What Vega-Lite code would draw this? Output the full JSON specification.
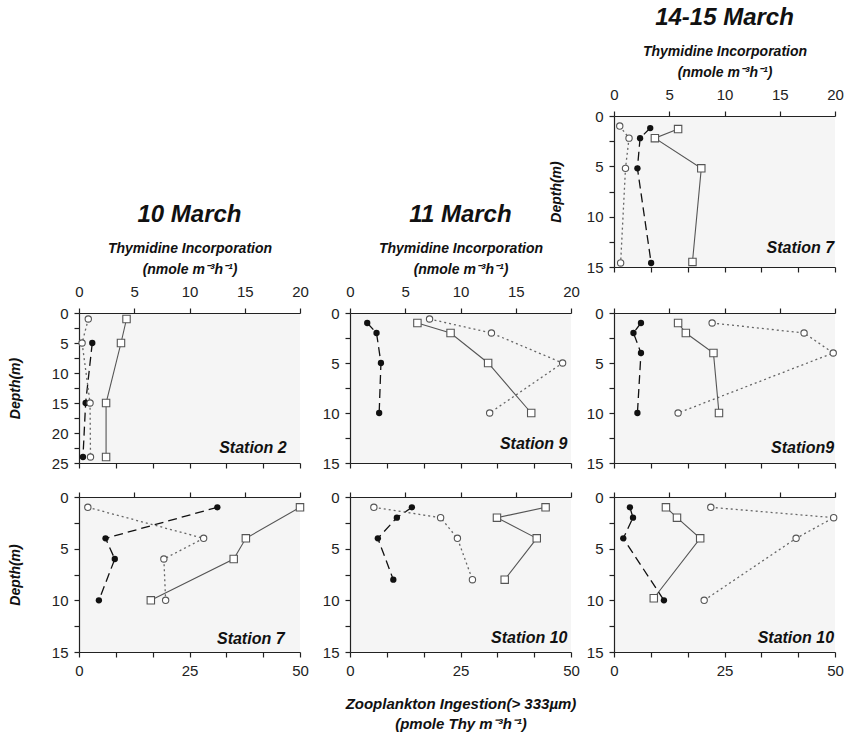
{
  "$schema": "https://vega.github.io/schema/vega-lite/v6.json",
  "padding": {"left": 8, "top": 6, "right": 0, "bottom": 4},
  "background": "white",
  "datasets": {
    "obs": [
      {"p":"A","s":"sq","d":1.3,"v":5.8},{"p":"A","s":"sq","d":2.2,"v":3.7},{"p":"A","s":"sq","d":5.2,"v":7.9},{"p":"A","s":"sq","d":14.5,"v":7.1},
      {"p":"A","s":"fc","d":1.2,"v":8.2},{"p":"A","s":"fc","d":2.2,"v":5.9},{"p":"A","s":"fc","d":5.2,"v":5.3},{"p":"A","s":"fc","d":14.6,"v":8.4},
      {"p":"A","s":"oc","d":1.0,"v":1.3},{"p":"A","s":"oc","d":2.2,"v":3.4},{"p":"A","s":"oc","d":5.2,"v":2.6},{"p":"A","s":"oc","d":14.6,"v":1.5},
      {"p":"A","s":"lab","t":"Station 7"},
      {"p":"B1","s":"sq","d":1,"v":4.3},{"p":"B1","s":"sq","d":5,"v":3.8},{"p":"B1","s":"sq","d":15,"v":2.45},{"p":"B1","s":"sq","d":24,"v":2.45},
      {"p":"B1","s":"fc","d":5,"v":3.0},{"p":"B1","s":"fc","d":15,"v":1.5},{"p":"B1","s":"fc","d":24,"v":0.9},
      {"p":"B1","s":"oc","d":1,"v":2.1},{"p":"B1","s":"oc","d":5,"v":0.7},{"p":"B1","s":"oc","d":15,"v":2.5},{"p":"B1","s":"oc","d":24,"v":2.6},
      {"p":"B1","s":"lab","t":"Station 2"},
      {"p":"B2","s":"sq","d":1,"v":6.1},{"p":"B2","s":"sq","d":2,"v":9.1},{"p":"B2","s":"sq","d":5,"v":12.5},{"p":"B2","s":"sq","d":10,"v":16.4},
      {"p":"B2","s":"fc","d":1,"v":3.9},{"p":"B2","s":"fc","d":2,"v":6.0},{"p":"B2","s":"fc","d":5,"v":7.0},{"p":"B2","s":"fc","d":10,"v":6.6},
      {"p":"B2","s":"oc","d":0.6,"v":18.0},{"p":"B2","s":"oc","d":2,"v":32.0},{"p":"B2","s":"oc","d":5,"v":48.1},{"p":"B2","s":"oc","d":10,"v":31.6},
      {"p":"B2","s":"lab","t":"Station 9"},
      {"p":"B3","s":"sq","d":1,"v":5.8},{"p":"B3","s":"sq","d":2,"v":6.5},{"p":"B3","s":"sq","d":4,"v":9.0},{"p":"B3","s":"sq","d":10,"v":9.5},
      {"p":"B3","s":"fc","d":1,"v":6.1},{"p":"B3","s":"fc","d":2,"v":4.4},{"p":"B3","s":"fc","d":4,"v":6.1},{"p":"B3","s":"fc","d":10,"v":5.3},
      {"p":"B3","s":"oc","d":1,"v":22.2},{"p":"B3","s":"oc","d":2,"v":43.0},{"p":"B3","s":"oc","d":4,"v":49.6},{"p":"B3","s":"oc","d":10,"v":14.5},
      {"p":"B3","s":"lab","t":"Station9"},
      {"p":"C1","s":"sq","d":1,"v":20.0},{"p":"C1","s":"sq","d":4,"v":15.1},{"p":"C1","s":"sq","d":6,"v":14.0},{"p":"C1","s":"sq","d":10,"v":6.5},
      {"p":"C1","s":"fc","d":1,"v":31.3},{"p":"C1","s":"fc","d":4,"v":6.0},{"p":"C1","s":"fc","d":6,"v":8.1},{"p":"C1","s":"fc","d":10,"v":4.5},
      {"p":"C1","s":"oc","d":1,"v":2.0},{"p":"C1","s":"oc","d":4,"v":28.2},{"p":"C1","s":"oc","d":6,"v":19.2},{"p":"C1","s":"oc","d":10,"v":19.6},
      {"p":"C1","s":"lab","t":"Station 7"},
      {"p":"C2","s":"sq","d":1,"v":17.7},{"p":"C2","s":"sq","d":2,"v":13.3},{"p":"C2","s":"sq","d":4,"v":16.9},{"p":"C2","s":"sq","d":8,"v":14.0},
      {"p":"C2","s":"fc","d":1,"v":14.0},{"p":"C2","s":"fc","d":2,"v":10.6},{"p":"C2","s":"fc","d":4,"v":6.3},{"p":"C2","s":"fc","d":8,"v":9.8},
      {"p":"C2","s":"oc","d":1,"v":5.4},{"p":"C2","s":"oc","d":2,"v":20.5},{"p":"C2","s":"oc","d":4,"v":24.3},{"p":"C2","s":"oc","d":8,"v":27.7},
      {"p":"C2","s":"lab","t":"Station 10"},
      {"p":"C3","s":"sq","d":1,"v":4.7},{"p":"C3","s":"sq","d":2,"v":5.7},{"p":"C3","s":"sq","d":4,"v":7.8},{"p":"C3","s":"sq","d":9.8,"v":3.6},
      {"p":"C3","s":"fc","d":1,"v":3.6},{"p":"C3","s":"fc","d":2,"v":4.3},{"p":"C3","s":"fc","d":4,"v":2.1},{"p":"C3","s":"fc","d":10,"v":11.3},
      {"p":"C3","s":"oc","d":1,"v":21.9},{"p":"C3","s":"oc","d":2,"v":49.7},{"p":"C3","s":"oc","d":4,"v":41.2},{"p":"C3","s":"oc","d":10,"v":20.4},
      {"p":"C3","s":"lab","t":"Station 10"}
    ]
  },
  "columns": 3,
  "bounds": "flush",
  "spacing": {"row": 34, "column": 43},
  "concat": [
    {"width": 228, "height": 163, "view": {"fill": null, "stroke": null}, "data": {"values": [{}]}, "mark": {"type": "point", "opacity": 0}, "encoding": {}},
    {"width": 221, "height": 163, "view": {"fill": null, "stroke": null}, "data": {"values": [{}]}, "mark": {"type": "point", "opacity": 0}, "encoding": {}},
    {
      "width": 221, "height": 151, "data": {"name": "obs"},
      "title": {"text": "14-15 March", "anchor": "middle", "frame": "group", "offset": 14},
      "transform": [{"filter": "datum.p === 'A'"}],
      "resolve": {"scale": {"x": "independent"}},
      "layer": [
        {"transform": [{"filter": "datum.s === 'sq'"}], "mark": {"type": "line", "color": "#555", "strokeWidth": 1.1},
         "encoding": {"x": {"field": "v", "type": "quantitative", "scale": {"domain": [0, 20], "nice": false}, "axis": {"orient": "top", "values": [0, 5, 10, 15, 20], "labelExpr": "'' + datum.value", "labelPadding": 9, "title": ["Thymidine Incorporation", "(nmole m⁻³h⁻¹)"], "titlePadding": 8, "titleLineHeight": 21}},
           "y": {"field": "d", "type": "quantitative", "scale": {"domain": [0, 15], "reverse": true, "nice": false}, "axis": {"values": [0, 2.5, 5, 7.5, 10, 12.5, 15], "labelExpr": "datum.value % 5 === 0 ? '' + datum.value : ''", "title": "Depth(m)", "titlePadding": 23}},
           "order": {"field": "d"}}},
        {"transform": [{"filter": "datum.s === 'sq'"}], "mark": {"type": "point", "shape": "square", "size": 55, "filled": true, "fill": "white", "stroke": "#555", "strokeWidth": 1.1, "opacity": 1},
         "encoding": {"x": {"field": "v", "type": "quantitative", "scale": {"domain": [0, 20], "nice": false}, "axis": null},
           "y": {"field": "d", "type": "quantitative", "scale": {"domain": [0, 15], "reverse": true, "nice": false}, "axis": {"values": [0, 2.5, 5, 7.5, 10, 12.5, 15], "labelExpr": "datum.value % 5 === 0 ? '' + datum.value : ''", "title": "Depth(m)", "titlePadding": 23}}}},
        {"transform": [{"filter": "datum.s === 'fc'"}], "mark": {"type": "line", "color": "#111", "strokeWidth": 1.3, "strokeDash": [9, 5]},
         "encoding": {"x": {"field": "v", "type": "quantitative", "scale": {"domain": [0, 50], "nice": false}, "axis": {"orient": "bottom", "values": [0, 8.3333, 16.6667, 25, 33.3333, 41.6667, 50], "labels": false, "title": null}},
           "y": {"field": "d", "type": "quantitative", "scale": {"domain": [0, 15], "reverse": true, "nice": false}, "axis": {"values": [0, 2.5, 5, 7.5, 10, 12.5, 15], "labelExpr": "datum.value % 5 === 0 ? '' + datum.value : ''", "title": "Depth(m)", "titlePadding": 23}},
           "order": {"field": "d"}}},
        {"transform": [{"filter": "datum.s === 'fc'"}], "mark": {"type": "circle", "size": 40, "color": "#111", "opacity": 1},
         "encoding": {"x": {"field": "v", "type": "quantitative", "scale": {"domain": [0, 50], "nice": false}, "axis": null},
           "y": {"field": "d", "type": "quantitative", "scale": {"domain": [0, 15], "reverse": true, "nice": false}, "axis": {"values": [0, 2.5, 5, 7.5, 10, 12.5, 15], "labelExpr": "datum.value % 5 === 0 ? '' + datum.value : ''", "title": "Depth(m)", "titlePadding": 23}}}},
        {"transform": [{"filter": "datum.s === 'oc'"}], "mark": {"type": "line", "color": "#666", "strokeWidth": 1.3, "strokeDash": [2, 3]},
         "encoding": {"x": {"field": "v", "type": "quantitative", "scale": {"domain": [0, 50], "nice": false}, "axis": null},
           "y": {"field": "d", "type": "quantitative", "scale": {"domain": [0, 15], "reverse": true, "nice": false}, "axis": {"values": [0, 2.5, 5, 7.5, 10, 12.5, 15], "labelExpr": "datum.value % 5 === 0 ? '' + datum.value : ''", "title": "Depth(m)", "titlePadding": 23}},
           "order": {"field": "d"}}},
        {"transform": [{"filter": "datum.s === 'oc'"}], "mark": {"type": "point", "shape": "circle", "size": 40, "filled": true, "fill": "white", "stroke": "#555", "strokeWidth": 1.1, "opacity": 1},
         "encoding": {"x": {"field": "v", "type": "quantitative", "scale": {"domain": [0, 50], "nice": false}, "axis": null},
           "y": {"field": "d", "type": "quantitative", "scale": {"domain": [0, 15], "reverse": true, "nice": false}, "axis": {"values": [0, 2.5, 5, 7.5, 10, 12.5, 15], "labelExpr": "datum.value % 5 === 0 ? '' + datum.value : ''", "title": "Depth(m)", "titlePadding": 23}}}},
        {"transform": [{"filter": "datum.s === 'lab'"}], "mark": {"type": "text", "align": "right", "baseline": "middle", "font": "Liberation Sans", "fontSize": 16, "fontWeight": "bold", "fontStyle": "italic", "color": "#111"},
         "encoding": {"x": {"datum": 49.8, "type": "quantitative", "scale": {"domain": [0, 50], "nice": false}, "axis": null},
           "y": {"datum": 13.1, "type": "quantitative", "scale": {"domain": [0, 15], "reverse": true, "nice": false}, "axis": {"values": [0, 2.5, 5, 7.5, 10, 12.5, 15], "labelExpr": "datum.value % 5 === 0 ? '' + datum.value : ''", "title": "Depth(m)", "titlePadding": 23}},
           "text": {"field": "t"}}}
      ]
    },
    {
      "width": 221, "height": 150, "data": {"name": "obs"},
      "title": {"text": "10 March", "anchor": "middle", "frame": "group", "offset": 14},
      "transform": [{"filter": "datum.p === 'B1'"}],
      "resolve": {"scale": {"x": "independent"}},
      "layer": [
        {"transform": [{"filter": "datum.s === 'sq'"}], "mark": {"type": "line", "color": "#555", "strokeWidth": 1.1},
         "encoding": {"x": {"field": "v", "type": "quantitative", "scale": {"domain": [0, 20], "nice": false}, "axis": {"orient": "top", "values": [0, 5, 10, 15, 20], "labelExpr": "'' + datum.value", "labelPadding": 9, "title": ["Thymidine Incorporation", "(nmole m⁻³h⁻¹)"], "titlePadding": 8, "titleLineHeight": 21}},
           "y": {"field": "d", "type": "quantitative", "scale": {"domain": [0, 25], "reverse": true, "nice": false}, "axis": {"values": [0, 2.5, 5, 7.5, 10, 12.5, 15, 17.5, 20, 22.5, 25], "labelExpr": "datum.value % 5 === 0 ? '' + datum.value : ''", "title": "Depth(m)", "titlePadding": 29}},
           "order": {"field": "d"}}},
        {"transform": [{"filter": "datum.s === 'sq'"}], "mark": {"type": "point", "shape": "square", "size": 55, "filled": true, "fill": "white", "stroke": "#555", "strokeWidth": 1.1, "opacity": 1},
         "encoding": {"x": {"field": "v", "type": "quantitative", "scale": {"domain": [0, 20], "nice": false}, "axis": null},
           "y": {"field": "d", "type": "quantitative", "scale": {"domain": [0, 25], "reverse": true, "nice": false}, "axis": {"values": [0, 2.5, 5, 7.5, 10, 12.5, 15, 17.5, 20, 22.5, 25], "labelExpr": "datum.value % 5 === 0 ? '' + datum.value : ''", "title": "Depth(m)", "titlePadding": 29}}}},
        {"transform": [{"filter": "datum.s === 'fc'"}], "mark": {"type": "line", "color": "#111", "strokeWidth": 1.3, "strokeDash": [9, 5]},
         "encoding": {"x": {"field": "v", "type": "quantitative", "scale": {"domain": [0, 50], "nice": false}, "axis": {"orient": "bottom", "values": [0, 8.3333, 16.6667, 25, 33.3333, 41.6667, 50], "labels": false, "title": null}},
           "y": {"field": "d", "type": "quantitative", "scale": {"domain": [0, 25], "reverse": true, "nice": false}, "axis": {"values": [0, 2.5, 5, 7.5, 10, 12.5, 15, 17.5, 20, 22.5, 25], "labelExpr": "datum.value % 5 === 0 ? '' + datum.value : ''", "title": "Depth(m)", "titlePadding": 29}},
           "order": {"field": "d"}}},
        {"transform": [{"filter": "datum.s === 'fc'"}], "mark": {"type": "circle", "size": 40, "color": "#111", "opacity": 1},
         "encoding": {"x": {"field": "v", "type": "quantitative", "scale": {"domain": [0, 50], "nice": false}, "axis": null},
           "y": {"field": "d", "type": "quantitative", "scale": {"domain": [0, 25], "reverse": true, "nice": false}, "axis": {"values": [0, 2.5, 5, 7.5, 10, 12.5, 15, 17.5, 20, 22.5, 25], "labelExpr": "datum.value % 5 === 0 ? '' + datum.value : ''", "title": "Depth(m)", "titlePadding": 29}}}},
        {"transform": [{"filter": "datum.s === 'oc'"}], "mark": {"type": "line", "color": "#666", "strokeWidth": 1.3, "strokeDash": [2, 3]},
         "encoding": {"x": {"field": "v", "type": "quantitative", "scale": {"domain": [0, 50], "nice": false}, "axis": null},
           "y": {"field": "d", "type": "quantitative", "scale": {"domain": [0, 25], "reverse": true, "nice": false}, "axis": {"values": [0, 2.5, 5, 7.5, 10, 12.5, 15, 17.5, 20, 22.5, 25], "labelExpr": "datum.value % 5 === 0 ? '' + datum.value : ''", "title": "Depth(m)", "titlePadding": 29}},
           "order": {"field": "d"}}},
        {"transform": [{"filter": "datum.s === 'oc'"}], "mark": {"type": "point", "shape": "circle", "size": 40, "filled": true, "fill": "white", "stroke": "#555", "strokeWidth": 1.1, "opacity": 1},
         "encoding": {"x": {"field": "v", "type": "quantitative", "scale": {"domain": [0, 50], "nice": false}, "axis": null},
           "y": {"field": "d", "type": "quantitative", "scale": {"domain": [0, 25], "reverse": true, "nice": false}, "axis": {"values": [0, 2.5, 5, 7.5, 10, 12.5, 15, 17.5, 20, 22.5, 25], "labelExpr": "datum.value % 5 === 0 ? '' + datum.value : ''", "title": "Depth(m)", "titlePadding": 29}}}},
        {"transform": [{"filter": "datum.s === 'lab'"}], "mark": {"type": "text", "align": "right", "baseline": "middle", "font": "Liberation Sans", "fontSize": 16, "fontWeight": "bold", "fontStyle": "italic", "color": "#111"},
         "encoding": {"x": {"datum": 47, "type": "quantitative", "scale": {"domain": [0, 50], "nice": false}, "axis": null},
           "y": {"datum": 22.5, "type": "quantitative", "scale": {"domain": [0, 25], "reverse": true, "nice": false}, "axis": {"values": [0, 2.5, 5, 7.5, 10, 12.5, 15, 17.5, 20, 22.5, 25], "labelExpr": "datum.value % 5 === 0 ? '' + datum.value : ''", "title": "Depth(m)", "titlePadding": 29}},
           "text": {"field": "t"}}}
      ]
    },
    {
      "width": 221, "height": 150, "data": {"name": "obs"},
      "title": {"text": "11 March", "anchor": "middle", "frame": "group", "offset": 14},
      "transform": [{"filter": "datum.p === 'B2'"}],
      "resolve": {"scale": {"x": "independent"}},
      "layer": [
        {"transform": [{"filter": "datum.s === 'sq'"}], "mark": {"type": "line", "color": "#555", "strokeWidth": 1.1},
         "encoding": {"x": {"field": "v", "type": "quantitative", "scale": {"domain": [0, 20], "nice": false}, "axis": {"orient": "top", "values": [0, 5, 10, 15, 20], "labelExpr": "'' + datum.value", "labelPadding": 9, "title": ["Thymidine Incorporation", "(nmole m⁻³h⁻¹)"], "titlePadding": 8, "titleLineHeight": 21}},
           "y": {"field": "d", "type": "quantitative", "scale": {"domain": [0, 15], "reverse": true, "nice": false}, "axis": {"values": [0, 2.5, 5, 7.5, 10, 12.5, 15], "labelExpr": "datum.value % 5 === 0 ? '' + datum.value : ''", "title": null}},
           "order": {"field": "d"}}},
        {"transform": [{"filter": "datum.s === 'sq'"}], "mark": {"type": "point", "shape": "square", "size": 55, "filled": true, "fill": "white", "stroke": "#555", "strokeWidth": 1.1, "opacity": 1},
         "encoding": {"x": {"field": "v", "type": "quantitative", "scale": {"domain": [0, 20], "nice": false}, "axis": null},
           "y": {"field": "d", "type": "quantitative", "scale": {"domain": [0, 15], "reverse": true, "nice": false}, "axis": {"values": [0, 2.5, 5, 7.5, 10, 12.5, 15], "labelExpr": "datum.value % 5 === 0 ? '' + datum.value : ''", "title": null}}}},
        {"transform": [{"filter": "datum.s === 'fc'"}], "mark": {"type": "line", "color": "#111", "strokeWidth": 1.3, "strokeDash": [9, 5]},
         "encoding": {"x": {"field": "v", "type": "quantitative", "scale": {"domain": [0, 50], "nice": false}, "axis": {"orient": "bottom", "values": [0, 8.3333, 16.6667, 25, 33.3333, 41.6667, 50], "labels": false, "title": null}},
           "y": {"field": "d", "type": "quantitative", "scale": {"domain": [0, 15], "reverse": true, "nice": false}, "axis": {"values": [0, 2.5, 5, 7.5, 10, 12.5, 15], "labelExpr": "datum.value % 5 === 0 ? '' + datum.value : ''", "title": null}},
           "order": {"field": "d"}}},
        {"transform": [{"filter": "datum.s === 'fc'"}], "mark": {"type": "circle", "size": 40, "color": "#111", "opacity": 1},
         "encoding": {"x": {"field": "v", "type": "quantitative", "scale": {"domain": [0, 50], "nice": false}, "axis": null},
           "y": {"field": "d", "type": "quantitative", "scale": {"domain": [0, 15], "reverse": true, "nice": false}, "axis": {"values": [0, 2.5, 5, 7.5, 10, 12.5, 15], "labelExpr": "datum.value % 5 === 0 ? '' + datum.value : ''", "title": null}}}},
        {"transform": [{"filter": "datum.s === 'oc'"}], "mark": {"type": "line", "color": "#666", "strokeWidth": 1.3, "strokeDash": [2, 3]},
         "encoding": {"x": {"field": "v", "type": "quantitative", "scale": {"domain": [0, 50], "nice": false}, "axis": null},
           "y": {"field": "d", "type": "quantitative", "scale": {"domain": [0, 15], "reverse": true, "nice": false}, "axis": {"values": [0, 2.5, 5, 7.5, 10, 12.5, 15], "labelExpr": "datum.value % 5 === 0 ? '' + datum.value : ''", "title": null}},
           "order": {"field": "d"}}},
        {"transform": [{"filter": "datum.s === 'oc'"}], "mark": {"type": "point", "shape": "circle", "size": 40, "filled": true, "fill": "white", "stroke": "#555", "strokeWidth": 1.1, "opacity": 1},
         "encoding": {"x": {"field": "v", "type": "quantitative", "scale": {"domain": [0, 50], "nice": false}, "axis": null},
           "y": {"field": "d", "type": "quantitative", "scale": {"domain": [0, 15], "reverse": true, "nice": false}, "axis": {"values": [0, 2.5, 5, 7.5, 10, 12.5, 15], "labelExpr": "datum.value % 5 === 0 ? '' + datum.value : ''", "title": null}}}},
        {"transform": [{"filter": "datum.s === 'lab'"}], "mark": {"type": "text", "align": "right", "baseline": "middle", "font": "Liberation Sans", "fontSize": 16, "fontWeight": "bold", "fontStyle": "italic", "color": "#111"},
         "encoding": {"x": {"datum": 49.2, "type": "quantitative", "scale": {"domain": [0, 50], "nice": false}, "axis": null},
           "y": {"datum": 13.1, "type": "quantitative", "scale": {"domain": [0, 15], "reverse": true, "nice": false}, "axis": {"values": [0, 2.5, 5, 7.5, 10, 12.5, 15], "labelExpr": "datum.value % 5 === 0 ? '' + datum.value : ''", "title": null}},
           "text": {"field": "t"}}}
      ]
    },
    {
      "width": 221, "height": 150, "data": {"name": "obs"},
      "transform": [{"filter": "datum.p === 'B3'"}],
      "resolve": {"scale": {"x": "independent"}},
      "layer": [
        {"transform": [{"filter": "datum.s === 'sq'"}], "mark": {"type": "line", "color": "#555", "strokeWidth": 1.1},
         "encoding": {"x": {"field": "v", "type": "quantitative", "scale": {"domain": [0, 20], "nice": false}, "axis": {"orient": "top", "values": [0, 5, 10, 15, 20], "labels": false, "title": null}},
           "y": {"field": "d", "type": "quantitative", "scale": {"domain": [0, 15], "reverse": true, "nice": false}, "axis": {"values": [0, 2.5, 5, 7.5, 10, 12.5, 15], "labelExpr": "datum.value % 5 === 0 ? '' + datum.value : ''", "title": null}},
           "order": {"field": "d"}}},
        {"transform": [{"filter": "datum.s === 'sq'"}], "mark": {"type": "point", "shape": "square", "size": 55, "filled": true, "fill": "white", "stroke": "#555", "strokeWidth": 1.1, "opacity": 1},
         "encoding": {"x": {"field": "v", "type": "quantitative", "scale": {"domain": [0, 20], "nice": false}, "axis": null},
           "y": {"field": "d", "type": "quantitative", "scale": {"domain": [0, 15], "reverse": true, "nice": false}, "axis": {"values": [0, 2.5, 5, 7.5, 10, 12.5, 15], "labelExpr": "datum.value % 5 === 0 ? '' + datum.value : ''", "title": null}}}},
        {"transform": [{"filter": "datum.s === 'fc'"}], "mark": {"type": "line", "color": "#111", "strokeWidth": 1.3, "strokeDash": [9, 5]},
         "encoding": {"x": {"field": "v", "type": "quantitative", "scale": {"domain": [0, 50], "nice": false}, "axis": {"orient": "bottom", "values": [0, 8.3333, 16.6667, 25, 33.3333, 41.6667, 50], "labels": false, "title": null}},
           "y": {"field": "d", "type": "quantitative", "scale": {"domain": [0, 15], "reverse": true, "nice": false}, "axis": {"values": [0, 2.5, 5, 7.5, 10, 12.5, 15], "labelExpr": "datum.value % 5 === 0 ? '' + datum.value : ''", "title": null}},
           "order": {"field": "d"}}},
        {"transform": [{"filter": "datum.s === 'fc'"}], "mark": {"type": "circle", "size": 40, "color": "#111", "opacity": 1},
         "encoding": {"x": {"field": "v", "type": "quantitative", "scale": {"domain": [0, 50], "nice": false}, "axis": null},
           "y": {"field": "d", "type": "quantitative", "scale": {"domain": [0, 15], "reverse": true, "nice": false}, "axis": {"values": [0, 2.5, 5, 7.5, 10, 12.5, 15], "labelExpr": "datum.value % 5 === 0 ? '' + datum.value : ''", "title": null}}}},
        {"transform": [{"filter": "datum.s === 'oc'"}], "mark": {"type": "line", "color": "#666", "strokeWidth": 1.3, "strokeDash": [2, 3]},
         "encoding": {"x": {"field": "v", "type": "quantitative", "scale": {"domain": [0, 50], "nice": false}, "axis": null},
           "y": {"field": "d", "type": "quantitative", "scale": {"domain": [0, 15], "reverse": true, "nice": false}, "axis": {"values": [0, 2.5, 5, 7.5, 10, 12.5, 15], "labelExpr": "datum.value % 5 === 0 ? '' + datum.value : ''", "title": null}},
           "order": {"field": "d"}}},
        {"transform": [{"filter": "datum.s === 'oc'"}], "mark": {"type": "point", "shape": "circle", "size": 40, "filled": true, "fill": "white", "stroke": "#555", "strokeWidth": 1.1, "opacity": 1},
         "encoding": {"x": {"field": "v", "type": "quantitative", "scale": {"domain": [0, 50], "nice": false}, "axis": null},
           "y": {"field": "d", "type": "quantitative", "scale": {"domain": [0, 15], "reverse": true, "nice": false}, "axis": {"values": [0, 2.5, 5, 7.5, 10, 12.5, 15], "labelExpr": "datum.value % 5 === 0 ? '' + datum.value : ''", "title": null}}}},
        {"transform": [{"filter": "datum.s === 'lab'"}], "mark": {"type": "text", "align": "right", "baseline": "middle", "font": "Liberation Sans", "fontSize": 16, "fontWeight": "bold", "fontStyle": "italic", "color": "#111"},
         "encoding": {"x": {"datum": 49.8, "type": "quantitative", "scale": {"domain": [0, 50], "nice": false}, "axis": null},
           "y": {"datum": 13.5, "type": "quantitative", "scale": {"domain": [0, 15], "reverse": true, "nice": false}, "axis": {"values": [0, 2.5, 5, 7.5, 10, 12.5, 15], "labelExpr": "datum.value % 5 === 0 ? '' + datum.value : ''", "title": null}},
           "text": {"field": "t"}}}
      ]
    },
    {
      "width": 221, "height": 155, "data": {"name": "obs"},
      "transform": [{"filter": "datum.p === 'C1'"}],
      "resolve": {"scale": {"x": "independent"}},
      "layer": [
        {"transform": [{"filter": "datum.s === 'sq'"}], "mark": {"type": "line", "color": "#555", "strokeWidth": 1.1},
         "encoding": {"x": {"field": "v", "type": "quantitative", "scale": {"domain": [0, 20], "nice": false}, "axis": {"orient": "top", "values": [0, 5, 10, 15, 20], "labels": false, "title": null}},
           "y": {"field": "d", "type": "quantitative", "scale": {"domain": [0, 15], "reverse": true, "nice": false}, "axis": {"values": [0, 2.5, 5, 7.5, 10, 12.5, 15], "labelExpr": "datum.value % 5 === 0 ? '' + datum.value : ''", "title": "Depth(m)", "titlePadding": 29}},
           "order": {"field": "d"}}},
        {"transform": [{"filter": "datum.s === 'sq'"}], "mark": {"type": "point", "shape": "square", "size": 55, "filled": true, "fill": "white", "stroke": "#555", "strokeWidth": 1.1, "opacity": 1},
         "encoding": {"x": {"field": "v", "type": "quantitative", "scale": {"domain": [0, 20], "nice": false}, "axis": null},
           "y": {"field": "d", "type": "quantitative", "scale": {"domain": [0, 15], "reverse": true, "nice": false}, "axis": {"values": [0, 2.5, 5, 7.5, 10, 12.5, 15], "labelExpr": "datum.value % 5 === 0 ? '' + datum.value : ''", "title": "Depth(m)", "titlePadding": 29}}}},
        {"transform": [{"filter": "datum.s === 'fc'"}], "mark": {"type": "line", "color": "#111", "strokeWidth": 1.3, "strokeDash": [9, 5]},
         "encoding": {"x": {"field": "v", "type": "quantitative", "scale": {"domain": [0, 50], "nice": false}, "axis": {"orient": "bottom", "values": [0, 8.3333, 16.6667, 25, 33.3333, 41.6667, 50], "labelExpr": "datum.value % 25 === 0 ? '' + datum.value : ''", "title": null}},
           "y": {"field": "d", "type": "quantitative", "scale": {"domain": [0, 15], "reverse": true, "nice": false}, "axis": {"values": [0, 2.5, 5, 7.5, 10, 12.5, 15], "labelExpr": "datum.value % 5 === 0 ? '' + datum.value : ''", "title": "Depth(m)", "titlePadding": 29}},
           "order": {"field": "d"}}},
        {"transform": [{"filter": "datum.s === 'fc'"}], "mark": {"type": "circle", "size": 40, "color": "#111", "opacity": 1},
         "encoding": {"x": {"field": "v", "type": "quantitative", "scale": {"domain": [0, 50], "nice": false}, "axis": null},
           "y": {"field": "d", "type": "quantitative", "scale": {"domain": [0, 15], "reverse": true, "nice": false}, "axis": {"values": [0, 2.5, 5, 7.5, 10, 12.5, 15], "labelExpr": "datum.value % 5 === 0 ? '' + datum.value : ''", "title": "Depth(m)", "titlePadding": 29}}}},
        {"transform": [{"filter": "datum.s === 'oc'"}], "mark": {"type": "line", "color": "#666", "strokeWidth": 1.3, "strokeDash": [2, 3]},
         "encoding": {"x": {"field": "v", "type": "quantitative", "scale": {"domain": [0, 50], "nice": false}, "axis": null},
           "y": {"field": "d", "type": "quantitative", "scale": {"domain": [0, 15], "reverse": true, "nice": false}, "axis": {"values": [0, 2.5, 5, 7.5, 10, 12.5, 15], "labelExpr": "datum.value % 5 === 0 ? '' + datum.value : ''", "title": "Depth(m)", "titlePadding": 29}},
           "order": {"field": "d"}}},
        {"transform": [{"filter": "datum.s === 'oc'"}], "mark": {"type": "point", "shape": "circle", "size": 40, "filled": true, "fill": "white", "stroke": "#555", "strokeWidth": 1.1, "opacity": 1},
         "encoding": {"x": {"field": "v", "type": "quantitative", "scale": {"domain": [0, 50], "nice": false}, "axis": null},
           "y": {"field": "d", "type": "quantitative", "scale": {"domain": [0, 15], "reverse": true, "nice": false}, "axis": {"values": [0, 2.5, 5, 7.5, 10, 12.5, 15], "labelExpr": "datum.value % 5 === 0 ? '' + datum.value : ''", "title": "Depth(m)", "titlePadding": 29}}}},
        {"transform": [{"filter": "datum.s === 'lab'"}], "mark": {"type": "text", "align": "right", "baseline": "middle", "font": "Liberation Sans", "fontSize": 16, "fontWeight": "bold", "fontStyle": "italic", "color": "#111"},
         "encoding": {"x": {"datum": 46.5, "type": "quantitative", "scale": {"domain": [0, 50], "nice": false}, "axis": null},
           "y": {"datum": 13.7, "type": "quantitative", "scale": {"domain": [0, 15], "reverse": true, "nice": false}, "axis": {"values": [0, 2.5, 5, 7.5, 10, 12.5, 15], "labelExpr": "datum.value % 5 === 0 ? '' + datum.value : ''", "title": "Depth(m)", "titlePadding": 29}},
           "text": {"field": "t"}}}
      ]
    },
    {
      "width": 221, "height": 155, "data": {"name": "obs"},
      "transform": [{"filter": "datum.p === 'C2'"}],
      "resolve": {"scale": {"x": "independent"}},
      "layer": [
        {"transform": [{"filter": "datum.s === 'sq'"}], "mark": {"type": "line", "color": "#555", "strokeWidth": 1.1},
         "encoding": {"x": {"field": "v", "type": "quantitative", "scale": {"domain": [0, 20], "nice": false}, "axis": {"orient": "top", "values": [0, 5, 10, 15, 20], "labels": false, "title": null}},
           "y": {"field": "d", "type": "quantitative", "scale": {"domain": [0, 15], "reverse": true, "nice": false}, "axis": {"values": [0, 2.5, 5, 7.5, 10, 12.5, 15], "labelExpr": "datum.value % 5 === 0 ? '' + datum.value : ''", "title": null}},
           "order": {"field": "d"}}},
        {"transform": [{"filter": "datum.s === 'sq'"}], "mark": {"type": "point", "shape": "square", "size": 55, "filled": true, "fill": "white", "stroke": "#555", "strokeWidth": 1.1, "opacity": 1},
         "encoding": {"x": {"field": "v", "type": "quantitative", "scale": {"domain": [0, 20], "nice": false}, "axis": null},
           "y": {"field": "d", "type": "quantitative", "scale": {"domain": [0, 15], "reverse": true, "nice": false}, "axis": {"values": [0, 2.5, 5, 7.5, 10, 12.5, 15], "labelExpr": "datum.value % 5 === 0 ? '' + datum.value : ''", "title": null}}}},
        {"transform": [{"filter": "datum.s === 'fc'"}], "mark": {"type": "line", "color": "#111", "strokeWidth": 1.3, "strokeDash": [9, 5]},
         "encoding": {"x": {"field": "v", "type": "quantitative", "scale": {"domain": [0, 50], "nice": false}, "axis": {"orient": "bottom", "values": [0, 8.3333, 16.6667, 25, 33.3333, 41.6667, 50], "labelExpr": "datum.value % 25 === 0 ? '' + datum.value : ''", "title": ["Zooplankton Ingestion(> 333µm)", "(pmole Thy m⁻³h⁻¹)"], "titlePadding": 18, "titleLineHeight": 20, "titleFontSize": 15}},
           "y": {"field": "d", "type": "quantitative", "scale": {"domain": [0, 15], "reverse": true, "nice": false}, "axis": {"values": [0, 2.5, 5, 7.5, 10, 12.5, 15], "labelExpr": "datum.value % 5 === 0 ? '' + datum.value : ''", "title": null}},
           "order": {"field": "d"}}},
        {"transform": [{"filter": "datum.s === 'fc'"}], "mark": {"type": "circle", "size": 40, "color": "#111", "opacity": 1},
         "encoding": {"x": {"field": "v", "type": "quantitative", "scale": {"domain": [0, 50], "nice": false}, "axis": null},
           "y": {"field": "d", "type": "quantitative", "scale": {"domain": [0, 15], "reverse": true, "nice": false}, "axis": {"values": [0, 2.5, 5, 7.5, 10, 12.5, 15], "labelExpr": "datum.value % 5 === 0 ? '' + datum.value : ''", "title": null}}}},
        {"transform": [{"filter": "datum.s === 'oc'"}], "mark": {"type": "line", "color": "#666", "strokeWidth": 1.3, "strokeDash": [2, 3]},
         "encoding": {"x": {"field": "v", "type": "quantitative", "scale": {"domain": [0, 50], "nice": false}, "axis": null},
           "y": {"field": "d", "type": "quantitative", "scale": {"domain": [0, 15], "reverse": true, "nice": false}, "axis": {"values": [0, 2.5, 5, 7.5, 10, 12.5, 15], "labelExpr": "datum.value % 5 === 0 ? '' + datum.value : ''", "title": null}},
           "order": {"field": "d"}}},
        {"transform": [{"filter": "datum.s === 'oc'"}], "mark": {"type": "point", "shape": "circle", "size": 40, "filled": true, "fill": "white", "stroke": "#555", "strokeWidth": 1.1, "opacity": 1},
         "encoding": {"x": {"field": "v", "type": "quantitative", "scale": {"domain": [0, 50], "nice": false}, "axis": null},
           "y": {"field": "d", "type": "quantitative", "scale": {"domain": [0, 15], "reverse": true, "nice": false}, "axis": {"values": [0, 2.5, 5, 7.5, 10, 12.5, 15], "labelExpr": "datum.value % 5 === 0 ? '' + datum.value : ''", "title": null}}}},
        {"transform": [{"filter": "datum.s === 'lab'"}], "mark": {"type": "text", "align": "right", "baseline": "middle", "font": "Liberation Sans", "fontSize": 16, "fontWeight": "bold", "fontStyle": "italic", "color": "#111"},
         "encoding": {"x": {"datum": 49.2, "type": "quantitative", "scale": {"domain": [0, 50], "nice": false}, "axis": null},
           "y": {"datum": 13.6, "type": "quantitative", "scale": {"domain": [0, 15], "reverse": true, "nice": false}, "axis": {"values": [0, 2.5, 5, 7.5, 10, 12.5, 15], "labelExpr": "datum.value % 5 === 0 ? '' + datum.value : ''", "title": null}},
           "text": {"field": "t"}}}
      ]
    },
    {
      "width": 221, "height": 155, "data": {"name": "obs"},
      "transform": [{"filter": "datum.p === 'C3'"}],
      "resolve": {"scale": {"x": "independent"}},
      "layer": [
        {"transform": [{"filter": "datum.s === 'sq'"}], "mark": {"type": "line", "color": "#555", "strokeWidth": 1.1},
         "encoding": {"x": {"field": "v", "type": "quantitative", "scale": {"domain": [0, 20], "nice": false}, "axis": {"orient": "top", "values": [0, 5, 10, 15, 20], "labels": false, "title": null}},
           "y": {"field": "d", "type": "quantitative", "scale": {"domain": [0, 15], "reverse": true, "nice": false}, "axis": {"values": [0, 2.5, 5, 7.5, 10, 12.5, 15], "labelExpr": "datum.value % 5 === 0 ? '' + datum.value : ''", "title": null}},
           "order": {"field": "d"}}},
        {"transform": [{"filter": "datum.s === 'sq'"}], "mark": {"type": "point", "shape": "square", "size": 55, "filled": true, "fill": "white", "stroke": "#555", "strokeWidth": 1.1, "opacity": 1},
         "encoding": {"x": {"field": "v", "type": "quantitative", "scale": {"domain": [0, 20], "nice": false}, "axis": null},
           "y": {"field": "d", "type": "quantitative", "scale": {"domain": [0, 15], "reverse": true, "nice": false}, "axis": {"values": [0, 2.5, 5, 7.5, 10, 12.5, 15], "labelExpr": "datum.value % 5 === 0 ? '' + datum.value : ''", "title": null}}}},
        {"transform": [{"filter": "datum.s === 'fc'"}], "mark": {"type": "line", "color": "#111", "strokeWidth": 1.3, "strokeDash": [9, 5]},
         "encoding": {"x": {"field": "v", "type": "quantitative", "scale": {"domain": [0, 50], "nice": false}, "axis": {"orient": "bottom", "values": [0, 8.3333, 16.6667, 25, 33.3333, 41.6667, 50], "labelExpr": "datum.value % 25 === 0 ? '' + datum.value : ''", "title": null}},
           "y": {"field": "d", "type": "quantitative", "scale": {"domain": [0, 15], "reverse": true, "nice": false}, "axis": {"values": [0, 2.5, 5, 7.5, 10, 12.5, 15], "labelExpr": "datum.value % 5 === 0 ? '' + datum.value : ''", "title": null}},
           "order": {"field": "d"}}},
        {"transform": [{"filter": "datum.s === 'fc'"}], "mark": {"type": "circle", "size": 40, "color": "#111", "opacity": 1},
         "encoding": {"x": {"field": "v", "type": "quantitative", "scale": {"domain": [0, 50], "nice": false}, "axis": null},
           "y": {"field": "d", "type": "quantitative", "scale": {"domain": [0, 15], "reverse": true, "nice": false}, "axis": {"values": [0, 2.5, 5, 7.5, 10, 12.5, 15], "labelExpr": "datum.value % 5 === 0 ? '' + datum.value : ''", "title": null}}}},
        {"transform": [{"filter": "datum.s === 'oc'"}], "mark": {"type": "line", "color": "#666", "strokeWidth": 1.3, "strokeDash": [2, 3]},
         "encoding": {"x": {"field": "v", "type": "quantitative", "scale": {"domain": [0, 50], "nice": false}, "axis": null},
           "y": {"field": "d", "type": "quantitative", "scale": {"domain": [0, 15], "reverse": true, "nice": false}, "axis": {"values": [0, 2.5, 5, 7.5, 10, 12.5, 15], "labelExpr": "datum.value % 5 === 0 ? '' + datum.value : ''", "title": null}},
           "order": {"field": "d"}}},
        {"transform": [{"filter": "datum.s === 'oc'"}], "mark": {"type": "point", "shape": "circle", "size": 40, "filled": true, "fill": "white", "stroke": "#555", "strokeWidth": 1.1, "opacity": 1},
         "encoding": {"x": {"field": "v", "type": "quantitative", "scale": {"domain": [0, 50], "nice": false}, "axis": null},
           "y": {"field": "d", "type": "quantitative", "scale": {"domain": [0, 15], "reverse": true, "nice": false}, "axis": {"values": [0, 2.5, 5, 7.5, 10, 12.5, 15], "labelExpr": "datum.value % 5 === 0 ? '' + datum.value : ''", "title": null}}}},
        {"transform": [{"filter": "datum.s === 'lab'"}], "mark": {"type": "text", "align": "right", "baseline": "middle", "font": "Liberation Sans", "fontSize": 16, "fontWeight": "bold", "fontStyle": "italic", "color": "#111"},
         "encoding": {"x": {"datum": 49.8, "type": "quantitative", "scale": {"domain": [0, 50], "nice": false}, "axis": null},
           "y": {"datum": 13.6, "type": "quantitative", "scale": {"domain": [0, 15], "reverse": true, "nice": false}, "axis": {"values": [0, 2.5, 5, 7.5, 10, 12.5, 15], "labelExpr": "datum.value % 5 === 0 ? '' + datum.value : ''", "title": null}},
           "text": {"field": "t"}}}
      ]
    }
  ],
  "config": {
    "view": {"stroke": null, "fill": "#f5f5f5"},
    "axis": {"grid": false, "domainColor": "#222", "tickColor": "#222", "labelColor": "#222", "labelFont": "Liberation Sans", "labelFontSize": 15, "tickSize": 5, "labelPadding": 6, "labelFlush": false, "labelOverlap": false, "titleFont": "Liberation Sans", "titleFontWeight": "bold", "titleFontStyle": "italic", "titleFontSize": 14, "titleColor": "#111", "domainWidth": 1.2, "tickWidth": 1.2},
    "title": {"font": "Liberation Sans", "fontSize": 24, "fontWeight": "bold", "fontStyle": "italic", "color": "#111"}
  }
}
